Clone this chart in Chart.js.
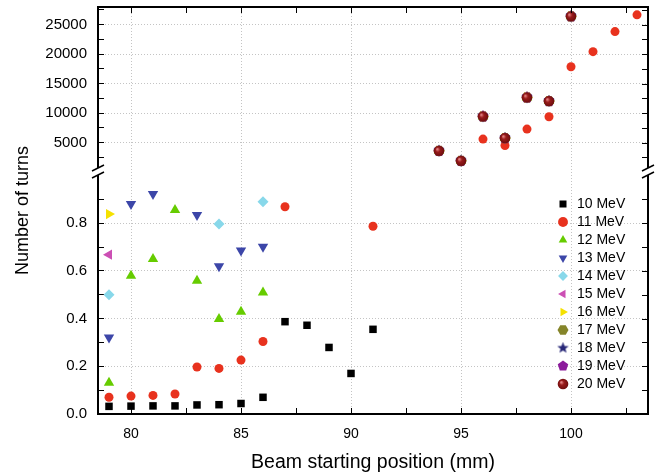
<!DOCTYPE html>
<html>
<head>
<meta charset="utf-8">
<script src="https://cdn.jsdelivr.net/npm/chart.js@4/dist/chart.umd.min.js"></script>
<style>
  html, body { margin: 0; padding: 0; background: #fff; }
  #wrap { width: 666px; height: 475px; }
</style>
</head>
<body>
<div id="wrap"><canvas id="turnsChart" width="666" height="475"></canvas></div>
<script>
// beam starting positions (mm)
const positions = [79, 80, 81, 82, 83, 84, 85, 86, 87, 88, 89, 90, 91, 92, 93, 94, 95, 96, 97, 98, 99, 100, 101, 102, 103];

// number of turns per energy, aligned with positions (null = no point)
const mev10 = [0.032, 0.033, 0.034, 0.034, 0.038, 0.039, 0.044, 0.070, 0.387, 0.372, 0.279, 0.170, 0.355, null, null, null, null, null, null, null, null, null, null, null, null];
const mev11 = [0.070, 0.075, 0.078, 0.084, 0.197, 0.191, 0.226, 0.304, 0.869, null, null, null, 0.787, null, null, null, null, 5580, 4490, 7280, 9370, 17870, 20420, 23830, 26670];
const mev12 = [0.131, 0.580, 0.650, 0.855, 0.559, 0.398, 0.429, 0.509, null, null, null, null, null, null, null, 3590, 1890, 9420, 5750, 12650, 12030, 26410, null, null, null];
const mev13 = [0.321, 0.880, 0.922, null, 0.834, 0.619, 0.685, 0.701, null, null, null, null, null, null, null, 3590, 1890, 9420, 5750, 12650, 12030, 26410, null, null, null];
const mev14 = [0.500, null, null, null, null, 0.797, null, 0.890, null, null, null, null, null, null, null, 3590, 1890, 9420, 5750, 12650, 12030, 26410, null, null, null];
const mev15 = [0.668, null, null, null, null, null, null, null, null, null, null, null, null, null, null, 3590, 1890, 9420, 5750, 12650, 12030, 26410, null, null, null];
const mev16 = [0.838, null, null, null, null, null, null, null, null, null, null, null, null, null, null, 3590, 1890, 9420, 5750, 12650, 12030, 26410, null, null, null];
const mev17 = [null, null, null, null, null, null, null, null, null, null, null, null, null, null, null, 3590, 1890, 9420, 5750, 12650, 12030, 26410, null, null, null];
const mev18 = [null, null, null, null, null, null, null, null, null, null, null, null, null, null, null, 3590, 1890, 9420, 5750, 12650, 12030, 26410, null, null, null];
const mev19 = [null, null, null, null, null, null, null, null, null, null, null, null, null, null, null, 3590, 1890, 9420, 5750, 12650, 12030, 26410, null, null, null];
const mev20 = [null, null, null, null, null, null, null, null, null, null, null, null, null, null, null, 3590, 1890, 9420, 5750, 12650, 12030, 26410, null, null, null];

const energyLabels = ['10 MeV', '11 MeV', '12 MeV', '13 MeV', '14 MeV', '15 MeV', '16 MeV', '17 MeV', '18 MeV', '19 MeV', '20 MeV'];

// ticks (blank label = minor tick)
const xTicks = [80, 82.5, 85, 87.5, 90, 92.5, 95, 97.5, 100, 102.5];
const xTickLabels = ['80', '', '85', '', '90', '', '95', '', '100', ''];
const lowTicks = [0, 0.1, 0.2, 0.3, 0.4, 0.5, 0.6, 0.7, 0.8, 0.9];
const lowTickLabels = ['0.0', '', '0.2', '', '0.4', '', '0.6', '', '0.8', ''];
const highTicks = [2500, 5000, 7500, 10000, 12500, 15000, 17500, 20000, 22500, 25000, 27500];
const highTickLabels = ['', '5000', '', '10000', '', '15000', '', '20000', '', '25000', ''];

// little canvas markers for shapes chart.js doesn't have
function makeMarker(size, draw) {
    const c = document.createElement('canvas');
    c.width = size;
    c.height = size;
    const g = c.getContext('2d');
    draw(g, size / 2);
    return c;
}

function polygon(g, cx, n, r, start, fill) {
    g.beginPath();
    for (let i = 0; i < n; i++) {
        const a = start + i * 2 * Math.PI / n;
        g.lineTo(cx + r * Math.cos(a), cx + r * Math.sin(a));
    }
    g.closePath();
    g.fillStyle = fill;
    g.fill();
}

const hexagon = makeMarker(12, (g, c) => polygon(g, c, 6, 5.5, 0, '#85852a'));
const pentagon = makeMarker(12, (g, c) => polygon(g, c, 5, 5.5, -Math.PI / 2, '#8c1c9c'));
const star = makeMarker(13, (g, c) => {
    g.beginPath();
    for (let i = 0; i < 10; i++) {
        const r = i % 2 ? 2.6 : 6;
        const a = -Math.PI / 2 + i * Math.PI / 5;
        g.lineTo(c + r * Math.cos(a), c + r * Math.sin(a));
    }
    g.closePath();
    g.fillStyle = '#282878';
    g.fill();
});
const sphere = makeMarker(12, (g, c) => {
    const grad = g.createRadialGradient(c - 1.8, c - 1.8, 0.5, c, c, 5.5);
    grad.addColorStop(0, '#e08080');
    grad.addColorStop(0.35, '#9a1c1c');
    grad.addColorStop(1, '#6a0c0c');
    g.beginPath();
    g.arc(c, c, 5.3, 0, 2 * Math.PI);
    g.fillStyle = grad;
    g.fill();
});

const seriesValues = [mev10, mev11, mev12, mev13, mev14, mev15, mev16, mev17, mev18, mev19, mev20];
const seriesStyles = [
    { color: '#000000', pointStyle: 'rect', radius: 5.3, rotation: 0 },
    { color: '#e8321e', pointStyle: 'circle', radius: 4.5, rotation: 0 },
    { color: '#66cc00', pointStyle: 'triangle', radius: 6, rotation: 0 },
    { color: '#3c46a8', pointStyle: 'triangle', radius: 6, rotation: 180 },
    { color: '#88d8ea', pointStyle: 'rectRot', radius: 5.5, rotation: 0 },
    { color: '#cc4fb4', pointStyle: 'triangle', radius: 6, rotation: 270 },
    { color: '#f5e100', pointStyle: 'triangle', radius: 6, rotation: 90 },
    { color: '#85852a', pointStyle: hexagon, radius: 5, rotation: 0 },
    { color: '#282878', pointStyle: star, radius: 5, rotation: 0 },
    { color: '#8c1c9c', pointStyle: pentagon, radius: 5, rotation: 0 },
    { color: '#8a1414', pointStyle: sphere, radius: 5, rotation: 0 }
];

// split every series: fractions go on the lower axis, big counts on the upper one
function buildDataset(i, upper) {
    const st = seriesStyles[i];
    const pts = [];
    positions.forEach((p, j) => {
        const v = seriesValues[i][j];
        if (v === null) return;
        if ((v >= 1) === upper) pts.push({ x: p, y: v });
    });
    return {
        label: energyLabels[i],
        data: pts,
        yAxisID: upper ? 'yHigh' : 'yLow',
        upper: upper,
        order: energyLabels.length - i,   // later energies drawn on top
        backgroundColor: st.color,
        borderColor: st.color,
        borderWidth: 0,
        pointStyle: st.pointStyle,
        pointRadius: st.radius,
        pointHoverRadius: st.radius,
        pointRotation: st.rotation
    };
}

const datasets = [];
energyLabels.forEach((_, i) => datasets.push(buildDataset(i, false)));
energyLabels.forEach((_, i) => datasets.push(buildDataset(i, true)));

const family = "'Liberation Sans', Arial, sans-serif";
const font = { family: family, size: 14 };
const gridGray = '#c4c4c4';

function useTicks(values) {
    return s => { s.ticks = values.map(v => ({ value: v })); };
}

// top/right frame, mirrored ticks and the axis break marks
const framePlugin = {
    id: 'frame',
    afterLayout(chart) {
        const lg = chart.legend;
        const ca = chart.chartArea;
        lg.left = ca.right - 96;
        lg.right = lg.left + lg.width;
        lg.top = ca.top + 186;
        lg.bottom = lg.top + 260;
        lg.adjustHitBoxes();
    },
    afterDraw(chart) {
        const { ctx, chartArea: ca, scales } = chart;
        const tl = 6;
        ctx.save();
        ctx.strokeStyle = '#000';
        ctx.lineWidth = 2;
        ctx.beginPath();
        ctx.moveTo(ca.left - 1, ca.top);
        ctx.lineTo(ca.right, ca.top);
        ctx.lineTo(ca.right, ca.bottom + 1);
        ctx.stroke();

        ctx.lineWidth = 1;
        ctx.beginPath();
        xTicks.forEach(v => {
            const px = Math.round(scales.x.getPixelForValue(v)) + 0.5;
            ctx.moveTo(px, ca.top);
            ctx.lineTo(px, ca.top + tl);
        });
        lowTicks.forEach(v => {
            const py = Math.round(scales.yLow.getPixelForValue(v)) + 0.5;
            ctx.moveTo(ca.right, py);
            ctx.lineTo(ca.right - tl, py);
        });
        highTicks.forEach(v => {
            const py = Math.round(scales.yHigh.getPixelForValue(v)) + 0.5;
            ctx.moveTo(ca.right, py);
            ctx.lineTo(ca.right - tl, py);
        });
        ctx.stroke();

        const yb = scales.yHigh.bottom;
        [ca.left, ca.right].forEach(x => {
            ctx.fillStyle = '#fff';
            ctx.fillRect(x - 3, yb - 4, 6, 7);
            ctx.strokeStyle = '#000';
            ctx.lineWidth = 1.5;
            ctx.beginPath();
            ctx.moveTo(x - 6, yb - 1);
            ctx.lineTo(x + 6, yb - 7);
            ctx.moveTo(x - 6, yb + 6);
            ctx.lineTo(x + 6, yb);
            ctx.stroke();
        });
        ctx.restore();
    }
};

const yScaleBase = (ticks, labels) => ({
    type: 'linear',
    position: 'left',
    stack: 'turns',
    afterBuildTicks: useTicks(ticks),
    afterFit: s => { s.width = 60; s.paddingTop = 0; s.paddingBottom = 0; },
    border: { color: '#000', width: 2, dash: [1, 2] },
    grid: {
        color: c => (c.index > 0 && labels[c.index]) ? gridGray : 'transparent',
        tickColor: '#000',
        tickLength: -6
    },
    ticks: {
        padding: 17,
        color: '#000',
        font: { family: family, size: 15 },
        autoSkip: false,
        callback: (v, i) => labels[i]
    }
});

new Chart(document.getElementById('turnsChart'), {
    type: 'scatter',
    data: { datasets: datasets },
    options: {
        responsive: false,
        animation: false,
        layout: { padding: { left: 0, right: 18, top: 7, bottom: 0 } },
        plugins: {
            tooltip: { enabled: false },
            legend: {
                position: 'chartArea',
                align: 'start',
                labels: {
                    usePointStyle: true,
                    boxWidth: 14,
                    boxHeight: 7,
                    padding: 4,
                    color: '#000',
                    font: font,
                    sort: (a, b) => a.datasetIndex - b.datasetIndex,
                    filter: (item, data) => !data.datasets[item.datasetIndex].upper
                }
            }
        },
        scales: {
            x: {
                type: 'linear',
                position: 'bottom',
                min: 78.5,
                max: 103.5,
                afterBuildTicks: useTicks(xTicks),
                afterFit: s => { s.height = 61; s.paddingLeft = 0; s.paddingRight = 0; s.paddingTop = 0; s.paddingBottom = 0; },
                border: { color: '#000', width: 2, dash: [1, 2] },
                grid: {
                    color: c => xTickLabels[c.index] ? gridGray : 'transparent',
                    tickColor: '#000',
                    tickLength: -6
                },
                ticks: {
                    padding: 18,
                    color: '#000',
                    font: font,
                    maxRotation: 0,
                    autoSkip: false,
                    callback: (v, i) => xTickLabels[i]
                },
                title: {
                    display: true,
                    text: 'Beam starting position (mm)',
                    color: '#000',
                    font: { family: family, size: 19.5 },
                    padding: { top: 0, bottom: 1 }
                }
            },
            yLow: Object.assign(yScaleBase(lowTicks, lowTickLabels), {
                stackWeight: 242,
                min: 0,
                max: 1.0145
            }),
            yHigh: Object.assign(yScaleBase(highTicks, highTickLabels), {
                stackWeight: 165,
                min: 0,
                max: 28000
            }),
            yTitle: {
                type: 'linear',
                position: 'left',
                afterFit: s => { s.width = 38; s.paddingTop = 0; s.paddingBottom = 0; },
                border: { display: false },
                grid: { display: false },
                ticks: { display: false },
                title: {
                    display: true,
                    text: 'Number of turns',
                    color: '#000',
                    font: { family: family, size: 18 },
                    padding: { top: 12, bottom: 0 }
                }
            }
        }
    },
    plugins: [framePlugin]
});
</script>
</body>
</html>
